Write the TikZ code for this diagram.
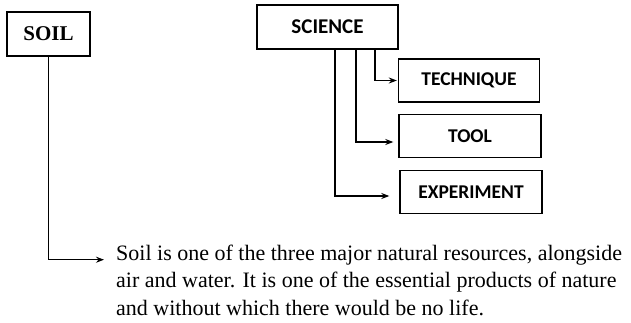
\documentclass[tikz,border=0pt]{standalone}
\usepackage{fontspec}
\setmainfont{Liberation Serif}
\newfontfamily\carlitofont{Carlito}
\usetikzlibrary{arrows.meta}
\begin{document}
\begin{tikzpicture}[x=1pt,y=-1pt,
  box/.style={draw, line width=1.4pt, inner sep=0pt},
  serifbox/.style={box, font=\fontsize{21}{24}\selectfont\bfseries},
  sansbox/.style={box, font=\carlitofont\fontsize{19.5}{22}\selectfont\bfseries},
  arr/.style={line width=1.2pt, -{Stealth[length=8pt,width=6pt]}},
  body/.style={font=\fontsize{22}{27.5}\selectfont, align=left, inner sep=0pt, anchor=north west}]
\useasboundingbox (0,0) rectangle (631,322);
\node[serifbox, minimum width=83pt, minimum height=44pt] (soil) at (48.5,34) {SOIL};
\node[sansbox, font=\carlitofont\fontsize{21}{24}\selectfont\bfseries, minimum width=141pt, minimum height=44pt] (sci) at (327.5,27) {SCIENCE};
\node[sansbox, minimum width=141pt, minimum height=43pt] (tech) at (469,80.5) {TECHNIQUE};
\node[sansbox, minimum width=142pt, minimum height=43pt] (tool) at (470,136) {TOOL};
\node[sansbox, minimum width=142pt, minimum height=43pt] (exp) at (471,192) {EXPERIMENT};
\node[body] (txt) at (116,244.7) {Soil is one of the three major natural resources, alongside\\
air and water. It is one of the essential products of nature\\
and without which there would be no life.};
\draw[arr] (soil.south) |- ([xshift=-12pt,yshift=-15pt]txt.north west);
\draw[arr, shorten >=1pt] ([xshift=47.5pt]sci.south) |- (tech.west);
\draw[arr, shorten >=5pt] ([xshift=28.5pt]sci.south) |- ([yshift=-6pt]tool.west);
\draw[arr, shorten >=10pt] ([xshift=7.5pt]sci.south) |- ([yshift=-4pt]exp.west);
\end{tikzpicture}
\end{document}
